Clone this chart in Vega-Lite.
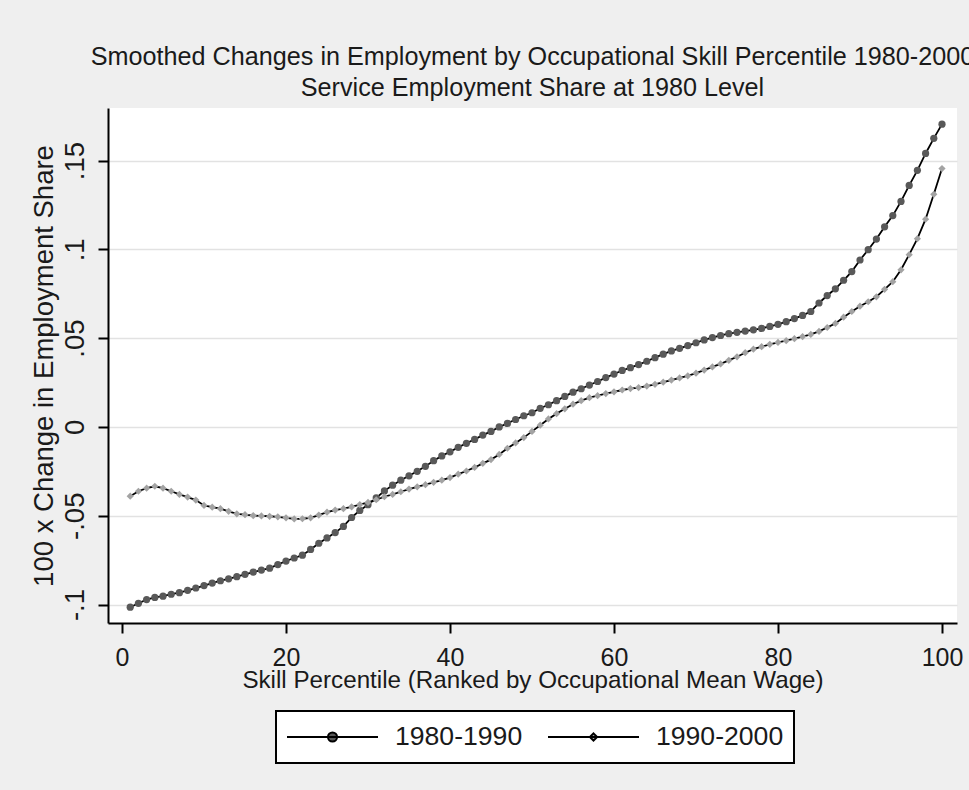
{
  "$schema": "https://vega.github.io/schema/vega-lite/v6.json",
  "width": 849,
  "height": 515,
  "autosize": {"type": "none"},
  "padding": {"left": 108, "top": 108, "right": 12, "bottom": 167},
  "background": "#efefef",
  "title": {
    "text": ["Smoothed Changes in Employment by Occupational Skill Percentile 1980-2000", "Service Employment Share at 1980 Level"],
    "font": "Liberation Sans",
    "fontSize": 25.2,
    "fontWeight": "normal",
    "color": "#1a1a1a",
    "anchor": "middle",
    "frame": "group",
    "lineHeight": 31,
    "offset": 7
  },
  "datasets": {
    "d": [
      {"p":1,"v":-0.1015,"s":"1980-1990"},{"p":2,"v":-0.0993,"s":"1980-1990"},{"p":3,"v":-0.0972,"s":"1980-1990"},{"p":4,"v":-0.0960,"s":"1980-1990"},{"p":5,"v":-0.0953,"s":"1980-1990"},
      {"p":6,"v":-0.0942,"s":"1980-1990"},{"p":7,"v":-0.0933,"s":"1980-1990"},{"p":8,"v":-0.0920,"s":"1980-1990"},{"p":9,"v":-0.0907,"s":"1980-1990"},{"p":10,"v":-0.0893,"s":"1980-1990"},
      {"p":11,"v":-0.0879,"s":"1980-1990"},{"p":12,"v":-0.0866,"s":"1980-1990"},{"p":13,"v":-0.0855,"s":"1980-1990"},{"p":14,"v":-0.0843,"s":"1980-1990"},{"p":15,"v":-0.0830,"s":"1980-1990"},
      {"p":16,"v":-0.0817,"s":"1980-1990"},{"p":17,"v":-0.0806,"s":"1980-1990"},{"p":18,"v":-0.0795,"s":"1980-1990"},{"p":19,"v":-0.0775,"s":"1980-1990"},{"p":20,"v":-0.0755,"s":"1980-1990"},
      {"p":21,"v":-0.0738,"s":"1980-1990"},{"p":22,"v":-0.0722,"s":"1980-1990"},{"p":23,"v":-0.0690,"s":"1980-1990"},{"p":24,"v":-0.0655,"s":"1980-1990"},{"p":25,"v":-0.0625,"s":"1980-1990"},
      {"p":26,"v":-0.0595,"s":"1980-1990"},{"p":27,"v":-0.0560,"s":"1980-1990"},{"p":28,"v":-0.0510,"s":"1980-1990"},{"p":29,"v":-0.0470,"s":"1980-1990"},{"p":30,"v":-0.0438,"s":"1980-1990"},
      {"p":31,"v":-0.0400,"s":"1980-1990"},{"p":32,"v":-0.0360,"s":"1980-1990"},{"p":33,"v":-0.0328,"s":"1980-1990"},{"p":34,"v":-0.0300,"s":"1980-1990"},{"p":35,"v":-0.0275,"s":"1980-1990"},
      {"p":36,"v":-0.0250,"s":"1980-1990"},{"p":37,"v":-0.0222,"s":"1980-1990"},{"p":38,"v":-0.0190,"s":"1980-1990"},{"p":39,"v":-0.0163,"s":"1980-1990"},{"p":40,"v":-0.0140,"s":"1980-1990"},
      {"p":41,"v":-0.0115,"s":"1980-1990"},{"p":42,"v":-0.0092,"s":"1980-1990"},{"p":43,"v":-0.0070,"s":"1980-1990"},{"p":44,"v":-0.0046,"s":"1980-1990"},{"p":45,"v":-0.0025,"s":"1980-1990"},
      {"p":46,"v":0.0000,"s":"1980-1990"},{"p":47,"v":0.0020,"s":"1980-1990"},{"p":48,"v":0.0042,"s":"1980-1990"},{"p":49,"v":0.0063,"s":"1980-1990"},{"p":50,"v":0.0080,"s":"1980-1990"},
      {"p":51,"v":0.0105,"s":"1980-1990"},{"p":52,"v":0.0125,"s":"1980-1990"},{"p":53,"v":0.0148,"s":"1980-1990"},{"p":54,"v":0.0172,"s":"1980-1990"},{"p":55,"v":0.0196,"s":"1980-1990"},
      {"p":56,"v":0.0215,"s":"1980-1990"},{"p":57,"v":0.0236,"s":"1980-1990"},{"p":58,"v":0.0256,"s":"1980-1990"},{"p":59,"v":0.0278,"s":"1980-1990"},{"p":60,"v":0.0298,"s":"1980-1990"},
      {"p":61,"v":0.0318,"s":"1980-1990"},{"p":62,"v":0.0334,"s":"1980-1990"},{"p":63,"v":0.0351,"s":"1980-1990"},{"p":64,"v":0.0370,"s":"1980-1990"},{"p":65,"v":0.0390,"s":"1980-1990"},
      {"p":66,"v":0.0410,"s":"1980-1990"},{"p":67,"v":0.0428,"s":"1980-1990"},{"p":68,"v":0.0443,"s":"1980-1990"},{"p":69,"v":0.0458,"s":"1980-1990"},{"p":70,"v":0.0474,"s":"1980-1990"},
      {"p":71,"v":0.0490,"s":"1980-1990"},{"p":72,"v":0.0503,"s":"1980-1990"},{"p":73,"v":0.0515,"s":"1980-1990"},{"p":74,"v":0.0525,"s":"1980-1990"},{"p":75,"v":0.0533,"s":"1980-1990"},
      {"p":76,"v":0.0540,"s":"1980-1990"},{"p":77,"v":0.0547,"s":"1980-1990"},{"p":78,"v":0.0555,"s":"1980-1990"},{"p":79,"v":0.0566,"s":"1980-1990"},{"p":80,"v":0.0578,"s":"1980-1990"},
      {"p":81,"v":0.0593,"s":"1980-1990"},{"p":82,"v":0.0610,"s":"1980-1990"},{"p":83,"v":0.0628,"s":"1980-1990"},{"p":84,"v":0.0650,"s":"1980-1990"},{"p":85,"v":0.0698,"s":"1980-1990"},
      {"p":86,"v":0.0740,"s":"1980-1990"},{"p":87,"v":0.0778,"s":"1980-1990"},{"p":88,"v":0.0826,"s":"1980-1990"},{"p":89,"v":0.0875,"s":"1980-1990"},{"p":90,"v":0.0940,"s":"1980-1990"},
      {"p":91,"v":0.0998,"s":"1980-1990"},{"p":92,"v":0.1058,"s":"1980-1990"},{"p":93,"v":0.1127,"s":"1980-1990"},{"p":94,"v":0.1190,"s":"1980-1990"},{"p":95,"v":0.1270,"s":"1980-1990"},
      {"p":96,"v":0.1360,"s":"1980-1990"},{"p":97,"v":0.1445,"s":"1980-1990"},{"p":98,"v":0.1540,"s":"1980-1990"},{"p":99,"v":0.1625,"s":"1980-1990"},{"p":100,"v":0.1705,"s":"1980-1990"},
      {"p":1,"v":-0.0390,"s":"1990-2000"},{"p":2,"v":-0.0362,"s":"1990-2000"},{"p":3,"v":-0.0345,"s":"1990-2000"},{"p":4,"v":-0.0334,"s":"1990-2000"},{"p":5,"v":-0.0345,"s":"1990-2000"},
      {"p":6,"v":-0.0362,"s":"1990-2000"},{"p":7,"v":-0.0380,"s":"1990-2000"},{"p":8,"v":-0.0395,"s":"1990-2000"},{"p":9,"v":-0.0412,"s":"1990-2000"},{"p":10,"v":-0.0442,"s":"1990-2000"},
      {"p":11,"v":-0.0452,"s":"1990-2000"},{"p":12,"v":-0.0460,"s":"1990-2000"},{"p":13,"v":-0.0475,"s":"1990-2000"},{"p":14,"v":-0.0489,"s":"1990-2000"},{"p":15,"v":-0.0494,"s":"1990-2000"},
      {"p":16,"v":-0.0499,"s":"1990-2000"},{"p":17,"v":-0.0501,"s":"1990-2000"},{"p":18,"v":-0.0503,"s":"1990-2000"},{"p":19,"v":-0.0506,"s":"1990-2000"},{"p":20,"v":-0.0512,"s":"1990-2000"},
      {"p":21,"v":-0.0518,"s":"1990-2000"},{"p":22,"v":-0.0517,"s":"1990-2000"},{"p":23,"v":-0.0512,"s":"1990-2000"},{"p":24,"v":-0.0496,"s":"1990-2000"},{"p":25,"v":-0.0480,"s":"1990-2000"},
      {"p":26,"v":-0.0468,"s":"1990-2000"},{"p":27,"v":-0.0460,"s":"1990-2000"},{"p":28,"v":-0.0450,"s":"1990-2000"},{"p":29,"v":-0.0437,"s":"1990-2000"},{"p":30,"v":-0.0425,"s":"1990-2000"},
      {"p":31,"v":-0.0410,"s":"1990-2000"},{"p":32,"v":-0.0393,"s":"1990-2000"},{"p":33,"v":-0.0380,"s":"1990-2000"},{"p":34,"v":-0.0365,"s":"1990-2000"},{"p":35,"v":-0.0350,"s":"1990-2000"},
      {"p":36,"v":-0.0337,"s":"1990-2000"},{"p":37,"v":-0.0325,"s":"1990-2000"},{"p":38,"v":-0.0312,"s":"1990-2000"},{"p":39,"v":-0.0300,"s":"1990-2000"},{"p":40,"v":-0.0285,"s":"1990-2000"},
      {"p":41,"v":-0.0266,"s":"1990-2000"},{"p":42,"v":-0.0248,"s":"1990-2000"},{"p":43,"v":-0.0228,"s":"1990-2000"},{"p":44,"v":-0.0205,"s":"1990-2000"},{"p":45,"v":-0.0184,"s":"1990-2000"},
      {"p":46,"v":-0.0155,"s":"1990-2000"},{"p":47,"v":-0.0120,"s":"1990-2000"},{"p":48,"v":-0.0090,"s":"1990-2000"},{"p":49,"v":-0.0060,"s":"1990-2000"},{"p":50,"v":-0.0025,"s":"1990-2000"},
      {"p":51,"v":0.0010,"s":"1990-2000"},{"p":52,"v":0.0045,"s":"1990-2000"},{"p":53,"v":0.0075,"s":"1990-2000"},{"p":54,"v":0.0102,"s":"1990-2000"},{"p":55,"v":0.0128,"s":"1990-2000"},
      {"p":56,"v":0.0148,"s":"1990-2000"},{"p":57,"v":0.0165,"s":"1990-2000"},{"p":58,"v":0.0176,"s":"1990-2000"},{"p":59,"v":0.0188,"s":"1990-2000"},{"p":60,"v":0.0198,"s":"1990-2000"},
      {"p":61,"v":0.0208,"s":"1990-2000"},{"p":62,"v":0.0216,"s":"1990-2000"},{"p":63,"v":0.0222,"s":"1990-2000"},{"p":64,"v":0.0230,"s":"1990-2000"},{"p":65,"v":0.0240,"s":"1990-2000"},
      {"p":66,"v":0.0252,"s":"1990-2000"},{"p":67,"v":0.0264,"s":"1990-2000"},{"p":68,"v":0.0276,"s":"1990-2000"},{"p":69,"v":0.0288,"s":"1990-2000"},{"p":70,"v":0.0303,"s":"1990-2000"},
      {"p":71,"v":0.0320,"s":"1990-2000"},{"p":72,"v":0.0338,"s":"1990-2000"},{"p":73,"v":0.0355,"s":"1990-2000"},{"p":74,"v":0.0375,"s":"1990-2000"},{"p":75,"v":0.0395,"s":"1990-2000"},
      {"p":76,"v":0.0418,"s":"1990-2000"},{"p":77,"v":0.0438,"s":"1990-2000"},{"p":78,"v":0.0452,"s":"1990-2000"},{"p":79,"v":0.0465,"s":"1990-2000"},{"p":80,"v":0.0476,"s":"1990-2000"},
      {"p":81,"v":0.0486,"s":"1990-2000"},{"p":82,"v":0.0497,"s":"1990-2000"},{"p":83,"v":0.0509,"s":"1990-2000"},{"p":84,"v":0.0521,"s":"1990-2000"},{"p":85,"v":0.0538,"s":"1990-2000"},
      {"p":86,"v":0.0560,"s":"1990-2000"},{"p":87,"v":0.0583,"s":"1990-2000"},{"p":88,"v":0.0618,"s":"1990-2000"},{"p":89,"v":0.0650,"s":"1990-2000"},{"p":90,"v":0.0680,"s":"1990-2000"},
      {"p":91,"v":0.0705,"s":"1990-2000"},{"p":92,"v":0.0733,"s":"1990-2000"},{"p":93,"v":0.0775,"s":"1990-2000"},{"p":94,"v":0.0818,"s":"1990-2000"},{"p":95,"v":0.0885,"s":"1990-2000"},
      {"p":96,"v":0.0970,"s":"1990-2000"},{"p":97,"v":0.1060,"s":"1990-2000"},{"p":98,"v":0.1170,"s":"1990-2000"},{"p":99,"v":0.1310,"s":"1990-2000"},{"p":100,"v":0.1455,"s":"1990-2000"}
    ]
  },
  "data": {"name": "d"},
  "layer": [
    {
      "mark": {"type": "line", "strokeWidth": 1.8},
      "encoding": {
        "x": {
          "field": "p", "type": "quantitative",
          "scale": {"domain": [-1.71, 101.83], "nice": false, "zero": false},
          "axis": {
            "values": [0, 20, 40, 60, 80, 100],
            "title": "Skill Percentile (Ranked by Occupational Mean Wage)",
            "grid": false,
            "labelFont": "Liberation Sans", "labelFontSize": 25, "labelColor": "#1a1a1a",
            "labelPadding": 12, "labelFlush": false, "labelOverlap": false,
            "tickSize": 10, "tickColor": "black", "tickWidth": 2,
            "domainColor": "black", "domainWidth": 2,
            "titleFont": "Liberation Sans", "titleFontSize": 24.2, "titleFontWeight": "normal",
            "titleColor": "#1a1a1a", "titlePadding": -2
          }
        },
        "y": {
          "field": "v", "type": "quantitative",
          "scale": {"domain": [-0.1104, 0.1796], "nice": false, "zero": false},
          "axis": {
            "values": [-0.1, -0.05, 0, 0.05, 0.1, 0.15],
            "labelExpr": "replace(replace(format(datum.value, '.2~f'), '\u2212', '-'), '0.', '.')",
            "title": "100 x Change in Employment Share",
            "grid": true, "gridColor": "#e2e2e2", "gridWidth": 1.5,
            "labelAngle": 270,
            "labelFont": "Liberation Sans", "labelFontSize": 27.5, "labelColor": "#1a1a1a",
            "labelPadding": 9, "labelOverlap": false,
            "tickSize": 10, "tickColor": "black", "tickWidth": 2,
            "domainColor": "black", "domainWidth": 2,
            "titleFont": "Liberation Sans", "titleFontSize": 27.5, "titleFontWeight": "normal",
            "titleColor": "#1a1a1a", "titlePadding": 3
          }
        },
        "stroke": {
          "field": "s", "type": "nominal",
          "scale": {"domain": ["1980-1990", "1990-2000"], "range": ["#000000", "#000000"]},
          "legend": {
            "title": null,
            "orient": "none",
            "legendX": 168,
            "legendY": 603,
            "direction": "horizontal",
            "fillColor": "white",
            "strokeColor": "black",
            "padding": 10,
            "clipHeight": 32,
            "symbolSize": 8281,
            "symbolOffset": 0,
            "symbolStrokeWidth": 2,
            "labelOffset": 16,
            "columnPadding": 24,
            "labelFont": "Liberation Sans", "labelFontSize": 26.6, "labelColor": "#1a1a1a",
            "encode": {
              "symbols": {"update": {
                "shape": {"signal": "datum.value === '1980-1990' ? 'M-1,0H1M0.1,0A0.1,0.1,0,1,1,-0.1,0A0.1,0.1,0,1,1,0.1,0Z' : 'M-1,0H1M0,-0.08L0.08,0L0,0.08L-0.08,0Z'"},
                "fill": {"signal": "datum.value === '1980-1990' ? '#595959' : '#a8a8a8'"},
                "stroke": {"value": "#000000"},
                "strokeWidth": {"value": 2}
              }},
              "legend": {"update": {"strokeWidth": {"value": 2}}}
            }
          }
        }
      }
    },
    {
      "mark": {"type": "point", "filled": true, "opacity": 1, "size": 52},
      "encoding": {
        "x": {"field": "p", "type": "quantitative"},
        "y": {"field": "v", "type": "quantitative"},
        "fill": {"condition": {"test": "datum.s === '1980-1990'", "value": "#595959"}, "value": "#a3a3a3"},
        "shape": {"condition": {"test": "datum.s === '1980-1990'", "value": "circle"}, "value": "diamond"}
      }
    }
  ],
  "config": {
    "view": {"stroke": null, "fill": "white"},
    "font": "Liberation Sans"
  }
}
